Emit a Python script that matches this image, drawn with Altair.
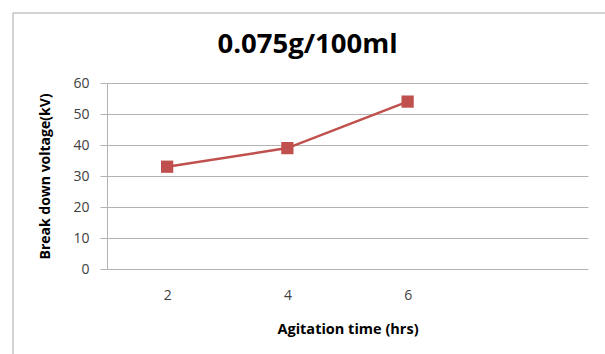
import altair as alt
import pandas as pd

hours = [2, 4, 6]
voltage = [33, 39, 54]
y_ticks = [0, 10, 20, 30, 40, 50, 60]

df = pd.DataFrame({"hours": hours, "voltage": voltage})

FONT = "Open Sans"
RED = "#C0504D"
GRID = "#b3b3b3"

x_enc = alt.X(
    "hours:Q",
    scale=alt.Scale(domain=[1, 9], nice=False, zero=False),
    axis=alt.Axis(
        values=hours, grid=False, ticks=False, domain=False,
        labelPadding=19, labelFontSize=14, labelFont=FONT, labelColor="#404040",
        title="Agitation time (hrs)", titleFont=FONT, titleFontSize=14.5,
        titleFontWeight="bold", titleColor="black", titlePadding=20,
    ),
)
y_enc = alt.Y(
    "voltage:Q",
    scale=alt.Scale(domain=[0, 60], nice=False),
    axis=alt.Axis(
        values=y_ticks, grid=True, gridColor=GRID, gridWidth=1,
        tickColor=GRID, tickSize=7, domainColor=GRID,
        labelPadding=11, labelFontSize=14, labelFont=FONT, labelColor="#404040",
        title="Break down voltage(kV)", titleFont=FONT, titleFontSize=14,
        titleFontWeight="bold", titleColor="black", titlePadding=20,
    ),
)

base = alt.Chart(df)
line = base.mark_line(color=RED, strokeWidth=2.5).encode(x=x_enc, y=y_enc)
pts = base.mark_square(size=150, color=RED, opacity=1).encode(x=x_enc, y=y_enc)

frame = alt.Chart(pd.DataFrame({"a": [0]})).mark_rect(
    fillOpacity=0, stroke="#a6a6a6", strokeWidth=1
).encode(x=alt.value(-94), x2=alt.value(700), y=alt.value(-70), y2=alt.value(400))

chart = alt.layer(frame, line, pts).properties(
    width=481,
    height=186,
    autosize=alt.AutoSizeParams(type="none"),
    padding={"left": 107, "top": 83, "right": 17, "bottom": 85},
    title=alt.TitleParams(
        "0.075g/100ml", font=FONT, fontSize=27.5, fontWeight="bold", color="black",
        anchor="middle", dx=-40, offset=-68, baseline="alphabetic",
    ),
).configure_view(stroke=None)

chart.save("out.html", embed_options={"renderer": "svg", "actions": False})
